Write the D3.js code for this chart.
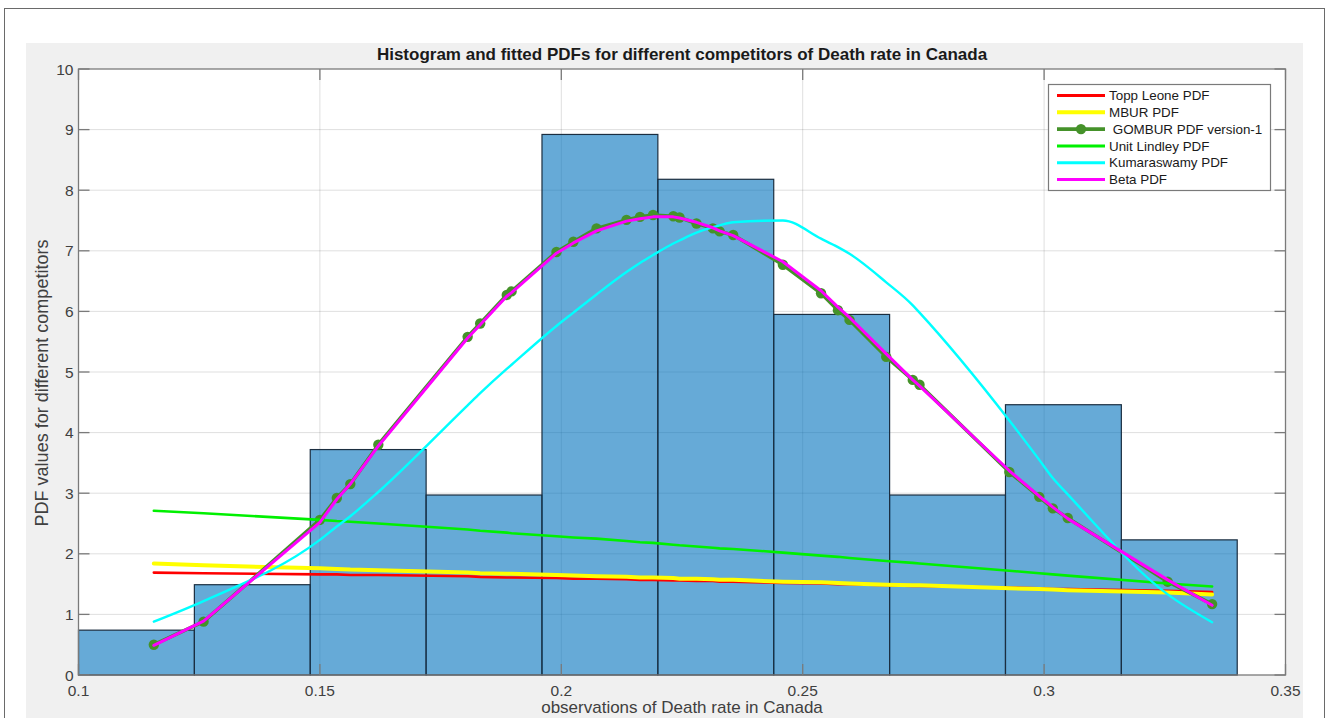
<!DOCTYPE html>
<html><head><meta charset="utf-8">
<script src="https://cdn.jsdelivr.net/npm/d3@7"></script>
<style>
body{margin:0;background:#fff;}
svg{display:block;font-family:"Liberation Sans",Arial,Helvetica,sans-serif;}
</style>
</head><body>
<svg id="c" width="1327" height="718"></svg>
<script>
// ---------------- data ----------------
const binEdges   = [0.100,0.124,0.148,0.172,0.196,0.220,0.244,0.268,0.292,0.316,0.340];
const binHeights = [0.74,1.49,3.72,2.97,8.92,8.18,5.95,2.97,4.46,2.23];

const obsX = [0.1156,0.1259,0.1500,0.1535,0.1563,0.1621,0.1806,0.1832,0.1887,0.1897,
              0.1990,0.2025,0.2073,0.2135,0.2163,0.2190,0.2232,0.2245,0.2280,0.2314,
              0.2328,0.2356,0.2459,0.2538,0.2573,0.2597,0.2673,0.2728,0.2742,0.2928,
              0.2990,0.3018,0.3049,0.3256,0.3348];

const toppLeone = [1.69,1.68,1.66,1.66,1.65,1.65,1.63,1.62,1.61,1.61,
                   1.60,1.59,1.59,1.58,1.57,1.57,1.56,1.56,1.55,1.55,
                   1.54,1.54,1.52,1.51,1.50,1.50,1.48,1.47,1.47,1.44,
                   1.43,1.42,1.42,1.39,1.37];
const mbur = [1.84,1.81,1.76,1.75,1.74,1.73,1.69,1.68,1.67,1.67,
              1.65,1.64,1.63,1.62,1.61,1.61,1.60,1.59,1.59,1.58,
              1.57,1.57,1.54,1.53,1.52,1.51,1.49,1.48,1.48,1.43,
              1.42,1.41,1.40,1.36,1.33];
const gombur = [0.50,0.88,2.56,2.92,3.15,3.80,5.58,5.80,6.27,6.33,
                6.98,7.15,7.37,7.51,7.56,7.59,7.57,7.55,7.45,7.37,
                7.32,7.26,6.77,6.30,6.02,5.86,5.25,4.87,4.79,3.35,
                2.94,2.75,2.59,1.54,1.17];
const unitLindley = [2.71,2.67,2.56,2.54,2.53,2.50,2.40,2.38,2.35,2.34,
                     2.29,2.27,2.25,2.21,2.19,2.18,2.15,2.14,2.12,2.10,
                     2.09,2.08,2.02,1.97,1.95,1.93,1.88,1.85,1.84,1.72,
                     1.68,1.66,1.64,1.51,1.46];
const kumaraswamy = [0.88,1.22,2.23,2.45,2.62,3.02,4.45,4.65,5.05,5.12,
                     5.76,5.98,6.28,6.65,6.80,6.93,7.12,7.17,7.30,7.39,
                     7.42,7.47,7.50,7.20,7.06,6.95,6.48,6.10,5.98,4.20,
                     3.55,3.25,2.98,1.33,0.87];
const beta = [0.49,0.89,2.52,2.90,3.15,3.78,5.56,5.78,6.25,6.31,
              6.96,7.13,7.33,7.49,7.53,7.56,7.56,7.54,7.47,7.38,
              7.33,7.25,6.82,6.34,6.07,5.90,5.30,4.87,4.77,3.37,
              2.95,2.77,2.58,1.57,1.15];

const seriesNames = ["Topp Leone PDF","MBUR PDF"," GOMBUR PDF version-1","Unit Lindley PDF","Kumaraswamy PDF","Beta PDF"];
const xTicks = [0.1,0.15,0.2,0.25,0.3,0.35];
const xTickLabels = ["0.1","0.15","0.2","0.25","0.3","0.35"];
const yTicks = [0,1,2,3,4,5,6,7,8,9,10];

const titleText = "Histogram and fitted PDFs for different competitors of Death rate in Canada";
const xLabelText = "observations of Death rate in Canada";
const yLabelText = "PDF values for different competitors";

// ---------------- styles ----------------
const seriesValues = [toppLeone, mbur, gombur, unitLindley, kumaraswamy, beta];
const seriesColors = ["#ff0000","#ffff00","#45922a","#00f000","#00ffff","#ff00ff"];
const seriesWidths = [2.6,4,3.6,2.6,2.4,3];
const seriesSmooth = [false,false,false,false,true,false];

const svg = d3.select("#c");
const L = 78.5, R = 1285.5, T = 69, B = 675;
const x = d3.scaleLinear().domain([0.1,0.35]).range([L,R]);
const y = d3.scaleLinear().domain([0,10]).range([B,T]);
const axisColor = "#7a7a7a";

// outer frame and figure background
svg.append("rect").attr("x",4.5).attr("y",8.5).attr("width",1320).attr("height",730)
   .attr("fill","#fff").attr("stroke","#6a6a6a").attr("stroke-width",1);
svg.append("rect").attr("x",26).attr("y",43).attr("width",1277).attr("height",690).attr("fill","#f0f0f0");
svg.append("rect").attr("x",L).attr("y",T).attr("width",R-L).attr("height",B-T).attr("fill","#fff");

// grid
const g = svg.append("g");
g.selectAll("line.vg").data(xTicks.slice(1,-1)).join("line")
  .attr("x1",d=>x(d)).attr("x2",d=>x(d)).attr("y1",T).attr("y2",B)
  .attr("stroke","#262626").attr("stroke-opacity",0.15).attr("stroke-width",1);
g.selectAll("line.hg").data(yTicks.slice(1,-1)).join("line")
  .attr("y1",d=>y(d)).attr("y2",d=>y(d)).attr("x1",L).attr("x2",R)
  .attr("stroke","#262626").attr("stroke-opacity",0.15).attr("stroke-width",1);

// histogram bars
svg.append("g").selectAll("rect").data(binHeights).join("rect")
  .attr("x",(d,i)=>x(binEdges[i]))
  .attr("width",(d,i)=>x(binEdges[i+1])-x(binEdges[i]))
  .attr("y",d=>y(d)).attr("height",d=>y(0)-y(d))
  .attr("fill","rgb(0,114,189)").attr("fill-opacity",0.6)
  .attr("stroke","#1b2e40").attr("stroke-width",1.2);

// curves
const lineLin = d3.line().x(d=>x(d[0])).y(d=>y(d[1]));
const lineSmooth = d3.line().x(d=>x(d[0])).y(d=>y(d[1])).curve(d3.curveMonotoneX);
seriesValues.forEach((vals,i)=>{
  const pts = obsX.map((xv,j)=>[xv, vals[j]]);
  svg.append("path").datum(pts).attr("d", seriesSmooth[i] ? lineSmooth : lineLin)
     .attr("fill","none").attr("stroke",seriesColors[i]).attr("stroke-width",seriesWidths[i])
     .attr("stroke-linejoin","round").attr("stroke-linecap","round");
  if (i===2){
    svg.append("g").selectAll("circle").data(pts).join("circle")
      .attr("cx",d=>x(d[0])).attr("cy",d=>y(d[1])).attr("r",5.2)
      .attr("fill",seriesColors[i]);
  }
});

// axes box
const ax = svg.append("g");
ax.append("rect").attr("x",L).attr("y",T).attr("width",R-L).attr("height",B-T)
  .attr("fill","none").attr("stroke",axisColor).attr("stroke-width",1.3);
const tl = 11;
xTicks.forEach(t=>{
  ax.append("line").attr("x1",x(t)).attr("x2",x(t)).attr("y1",B).attr("y2",B-tl).attr("stroke",axisColor).attr("stroke-width",1.3);
  ax.append("line").attr("x1",x(t)).attr("x2",x(t)).attr("y1",T).attr("y2",T+tl).attr("stroke",axisColor).attr("stroke-width",1.3);
});
yTicks.forEach(t=>{
  ax.append("line").attr("x1",L).attr("x2",L+tl).attr("y1",y(t)).attr("y2",y(t)).attr("stroke",axisColor).attr("stroke-width",1.3);
  ax.append("line").attr("x1",R).attr("x2",R-tl).attr("y1",y(t)).attr("y2",y(t)).attr("stroke",axisColor).attr("stroke-width",1.3);
});
ax.selectAll("text.xt").data(xTicks).join("text")
  .attr("x",d=>x(d)).attr("y",B+21).attr("text-anchor","middle")
  .attr("font-size",15.5).attr("fill","#404040").text((d,i)=>xTickLabels[i]);
ax.selectAll("text.yt").data(yTicks).join("text")
  .attr("x",L-5).attr("y",d=>y(d)+5.5).attr("text-anchor","end")
  .attr("font-size",15.5).attr("fill","#404040").text(d=>d);

// labels
svg.append("text").attr("x",(L+R)/2).attr("y",60).attr("text-anchor","middle")
  .attr("font-size",17).attr("font-weight","bold").attr("fill","#1a1a1a").text(titleText);
svg.append("text").attr("x",(L+R)/2).attr("y",713).attr("text-anchor","middle")
  .attr("font-size",17).attr("fill","#404040").text(xLabelText);
svg.append("text").attr("transform","translate(48,383) rotate(-90)").attr("text-anchor","middle")
  .attr("font-size",18).attr("fill","#404040").text(yLabelText);

// legend
const lg = svg.append("g");
lg.append("rect").attr("x",1048.5).attr("y",84.5).attr("width",222).attr("height",106)
  .attr("fill","#fff").attr("stroke",axisColor).attr("stroke-width",1.2);
seriesNames.forEach((n,i)=>{
  const yy = 95.5 + i*16.8;
  lg.append("line").attr("x1",1057).attr("x2",1105).attr("y1",yy).attr("y2",yy)
    .attr("stroke",seriesColors[i]).attr("stroke-width",Math.max(3,seriesWidths[i]));
  if(i===2) lg.append("circle").attr("cx",1081).attr("cy",yy).attr("r",5.2).attr("fill",seriesColors[i]);
  lg.append("text").attr("x",1109).attr("y",yy+4.7).attr("font-size",13.4).attr("fill","#1a1a1a")
    .attr("xml:space","preserve").style("white-space","pre").text(n);
});
</script>
</body></html>
